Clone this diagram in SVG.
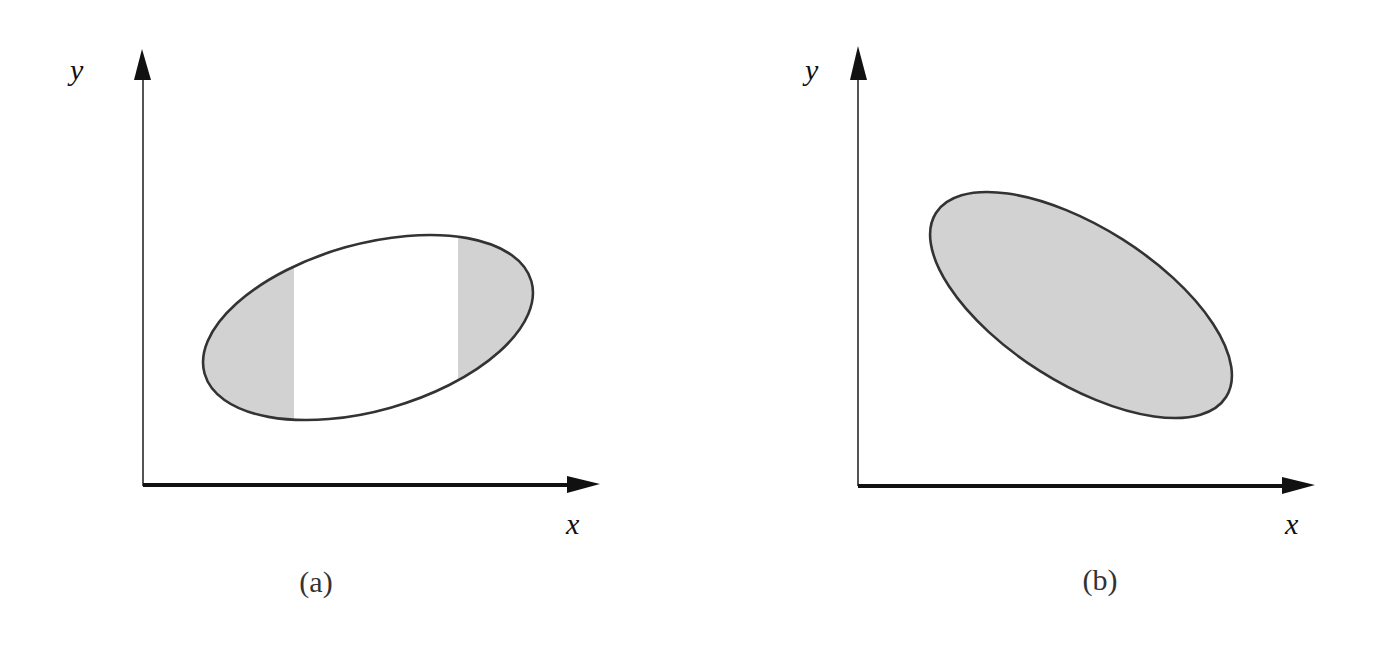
<svg xmlns="http://www.w3.org/2000/svg" width="1398" height="646" viewBox="0 0 1398 646">
<style>
.yax{stroke:#555;stroke-width:2;fill:none}
.xax{stroke:#111;stroke-width:4;fill:none}
.head{fill:#111}
.ell{stroke:#333;stroke-width:2.6}
.shade{fill:#d2d2d2}
.var{font-family:"Liberation Serif",serif;font-style:italic;font-size:30px;fill:#111}
.cap{font-family:"Liberation Serif",serif;font-size:30px;fill:#333}
</style>
<defs>
<clipPath id="clipA"><ellipse cx="368" cy="327.5" rx="169.8" ry="83.3" transform="rotate(-15.8 368 327.5)"/></clipPath>
</defs>
<rect width="1398" height="646" fill="#fff"/>
<g id="connectors">
<line class="yax" x1="143" y1="486" x2="143" y2="76"/>
<polygon class="head" points="142,49 134,80 151,80"/>
<line class="xax" x1="143" y1="485" x2="570" y2="485"/>
<polygon class="head" points="600,484 567,476 567,493"/>
<line class="yax" x1="858" y1="486" x2="858" y2="76"/>
<polygon class="head" points="858,46 850,80 867,80"/>
<line class="xax" x1="858" y1="486" x2="1284" y2="486"/>
<polygon class="head" points="1315,485 1282,477 1282,494"/>
</g>
<g id="ellipseA">
<g clip-path="url(#clipA)">
<rect class="shade" x="190" y="200" width="104" height="240"/>
<rect class="shade" x="458" y="200" width="100" height="240"/>
</g>
<ellipse class="ell" fill="none" cx="368" cy="327.5" rx="169.8" ry="83.3" transform="rotate(-15.8 368 327.5)"/>
</g>
<g id="ellipseB">
<ellipse class="ell shade" cx="1081" cy="305" rx="171.8" ry="77.7" transform="rotate(32.4 1081 305)"/>
</g>
<g id="labels">
<text class="var" x="70" y="80">y</text>
<text class="var" x="566" y="534">x</text>
<text class="cap" x="316" y="592" text-anchor="middle">(a)</text>
<text class="var" x="805" y="80">y</text>
<text class="var" x="1285" y="534">x</text>
<text class="cap" x="1100" y="590" text-anchor="middle">(b)</text>
</g>
</svg>
